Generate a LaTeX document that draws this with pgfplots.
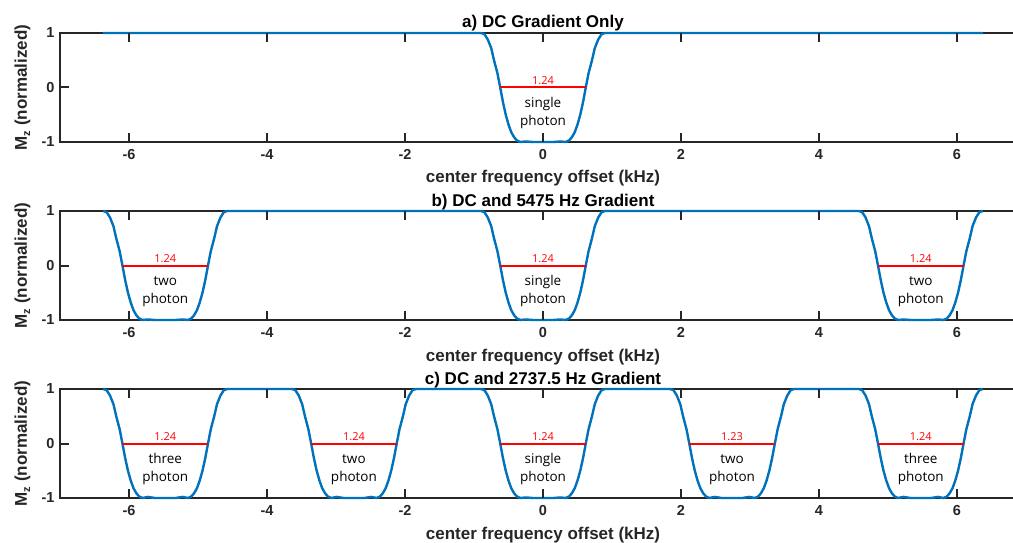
\documentclass[border=0pt]{standalone}
\usepackage{pgfplots}
\pgfplotsset{compat=1.18}
\usepackage{pgfplotstable}
\usepackage{fontspec}
\setmainfont{Liberation Sans}
\newfontfamily\annot{Open Sans}
\definecolor{mblue}{rgb}{0,0.447,0.741}
\definecolor{axgray}{rgb}{0.15,0.15,0.15}

\pgfplotstableread{
x y
-6.38 1.00
-0.90 1.00
-0.85 0.98
-0.80 0.88
-0.75 0.72
-0.71 0.50
-0.66 0.26
-0.62 0.00
-0.58 -0.27
-0.54 -0.50
-0.50 -0.68
-0.46 -0.82
-0.42 -0.91
-0.38 -0.97
-0.33 -1.00
-0.25 -0.99
-0.15 -1.00
0.00 -1.00
0.15 -1.00
0.25 -0.99
0.33 -1.00
0.38 -0.97
0.42 -0.91
0.46 -0.82
0.50 -0.68
0.54 -0.50
0.58 -0.27
0.62 0.00
0.66 0.26
0.71 0.50
0.75 0.72
0.80 0.88
0.85 0.98
0.90 1.00
6.38 1.00
}\tabA

\pgfplotstableread{
x y
-6.375 1.00
-6.325 0.98
-6.275 0.88
-6.225 0.72
-6.185 0.50
-6.135 0.26
-6.095 0.00
-6.055 -0.27
-6.015 -0.50
-5.975 -0.68
-5.935 -0.82
-5.895 -0.91
-5.855 -0.97
-5.805 -1.00
-5.725 -0.99
-5.625 -1.00
-5.475 -1.00
-5.325 -1.00
-5.225 -0.99
-5.145 -1.00
-5.095 -0.97
-5.055 -0.91
-5.015 -0.82
-4.975 -0.68
-4.935 -0.50
-4.895 -0.27
-4.855 0.00
-4.815 0.26
-4.765 0.50
-4.725 0.72
-4.675 0.88
-4.625 0.98
-4.575 1.00
-0.90 1.00
-0.85 0.98
-0.80 0.88
-0.75 0.72
-0.71 0.50
-0.66 0.26
-0.62 0.00
-0.58 -0.27
-0.54 -0.50
-0.50 -0.68
-0.46 -0.82
-0.42 -0.91
-0.38 -0.97
-0.33 -1.00
-0.25 -0.99
-0.15 -1.00
0.00 -1.00
0.15 -1.00
0.25 -0.99
0.33 -1.00
0.38 -0.97
0.42 -0.91
0.46 -0.82
0.50 -0.68
0.54 -0.50
0.58 -0.27
0.62 0.00
0.66 0.26
0.71 0.50
0.75 0.72
0.80 0.88
0.85 0.98
0.90 1.00
4.575 1.00
4.625 0.98
4.675 0.88
4.725 0.72
4.765 0.50
4.815 0.26
4.855 0.00
4.895 -0.27
4.935 -0.50
4.975 -0.68
5.015 -0.82
5.055 -0.91
5.095 -0.97
5.145 -1.00
5.225 -0.99
5.325 -1.00
5.475 -1.00
5.625 -1.00
5.725 -0.99
5.805 -1.00
5.855 -0.97
5.895 -0.91
5.935 -0.82
5.975 -0.68
6.015 -0.50
6.055 -0.27
6.095 0.00
6.135 0.26
6.185 0.50
6.225 0.72
6.275 0.88
6.325 0.98
6.375 1.00
}\tabB

\pgfplotstableread{
x y
-6.375 1.00
-6.325 0.98
-6.275 0.88
-6.225 0.72
-6.185 0.50
-6.135 0.26
-6.095 0.00
-6.055 -0.27
-6.015 -0.50
-5.975 -0.68
-5.935 -0.82
-5.895 -0.91
-5.855 -0.97
-5.805 -1.00
-5.725 -0.98
-5.625 -1.00
-5.475 -1.00
-5.325 -1.00
-5.225 -0.98
-5.145 -1.00
-5.095 -0.97
-5.055 -0.91
-5.015 -0.82
-4.975 -0.68
-4.935 -0.50
-4.895 -0.27
-4.855 0.00
-4.815 0.26
-4.765 0.50
-4.725 0.72
-4.675 0.88
-4.625 0.98
-4.575 1.00
-3.64 1.00
-3.59 0.98
-3.54 0.88
-3.49 0.72
-3.45 0.50
-3.40 0.26
-3.36 0.00
-3.32 -0.27
-3.28 -0.50
-3.24 -0.68
-3.20 -0.82
-3.16 -0.91
-3.12 -0.97
-3.07 -1.00
-2.99 -0.98
-2.89 -1.00
-2.74 -1.00
-2.59 -1.00
-2.49 -0.98
-2.41 -1.00
-2.36 -0.97
-2.32 -0.91
-2.28 -0.82
-2.24 -0.68
-2.20 -0.50
-2.16 -0.27
-2.12 0.00
-2.08 0.26
-2.03 0.50
-1.99 0.72
-1.94 0.88
-1.89 0.98
-1.84 1.00
-0.90 1.00
-0.85 0.98
-0.80 0.88
-0.75 0.72
-0.71 0.50
-0.66 0.26
-0.62 0.00
-0.58 -0.27
-0.54 -0.50
-0.50 -0.68
-0.46 -0.82
-0.42 -0.91
-0.38 -0.97
-0.33 -1.00
-0.25 -0.99
-0.15 -1.00
0.00 -1.00
0.15 -1.00
0.25 -0.99
0.33 -1.00
0.38 -0.97
0.42 -0.91
0.46 -0.82
0.50 -0.68
0.54 -0.50
0.58 -0.27
0.62 0.00
0.66 0.26
0.71 0.50
0.75 0.72
0.80 0.88
0.85 0.98
0.90 1.00
1.84 1.00
1.89 0.98
1.94 0.88
1.99 0.72
2.03 0.50
2.08 0.26
2.12 0.00
2.16 -0.27
2.20 -0.50
2.24 -0.68
2.28 -0.82
2.32 -0.91
2.36 -0.97
2.41 -1.00
2.49 -0.98
2.59 -1.00
2.74 -1.00
2.89 -1.00
2.99 -0.98
3.07 -1.00
3.12 -0.97
3.16 -0.91
3.20 -0.82
3.24 -0.68
3.28 -0.50
3.32 -0.27
3.36 0.00
3.40 0.26
3.45 0.50
3.49 0.72
3.54 0.88
3.59 0.98
3.64 1.00
4.575 1.00
4.625 0.98
4.675 0.88
4.725 0.72
4.765 0.50
4.815 0.26
4.855 0.00
4.895 -0.27
4.935 -0.50
4.975 -0.68
5.015 -0.82
5.055 -0.91
5.095 -0.97
5.145 -1.00
5.225 -0.98
5.325 -1.00
5.475 -1.00
5.625 -1.00
5.725 -0.98
5.805 -1.00
5.855 -0.97
5.895 -0.91
5.935 -0.82
5.975 -0.68
6.015 -0.50
6.055 -0.27
6.095 0.00
6.135 0.26
6.185 0.50
6.225 0.72
6.275 0.88
6.325 0.98
6.375 1.00
}\tabC

\newcommand{\lblfont}{\fontsize{17}{19}\selectfont\bfseries}
\newcommand{\tickfont}{\fontsize{14.5}{16}\selectfont\bfseries}

\tikzset{tickline/.style={draw=axgray, line width=2pt}}

\pgfplotsset{
  panel/.style={
    scale only axis, width=966pt, height=109pt, anchor=south west,
    xmin=-7, xmax=7, ymin=-1, ymax=1,
    clip=false,
    axis line style={line width=1.6pt, draw=axgray},
    xtick={-6,-4,-2,0,2,4,6}, xticklabels={-6,-4,-2,0,2,4,6},
    ytick={-1,0,1}, yticklabels={-1,0,1},
    tick align=inside, major tick length=9pt,
    tick style={line width=1.6pt, color=axgray},
    xticklabel style={font=\tickfont, text=axgray, yshift=-4pt},
    yticklabel style={font=\tickfont, text=axgray, xshift=-2pt},
    every axis title/.style={at={(axis description cs:0.5,1)}, anchor=base, yshift=5pt, font=\lblfont, text=black},
    every axis x label/.style={at={(axis description cs:0.5,0)}, anchor=base, yshift=-41pt, font=\lblfont, text=axgray},
    every axis y label/.style={at={(axis description cs:0,0.5)}, xshift=-33pt, rotate=90, anchor=base, font=\lblfont, text=axgray},
    xlabel={center frequency offset (kHz)},
    ylabel={M\raisebox{-0.35ex}{\fontsize{11}{11}\selectfont z} (normalized)},
  },
  curve/.style={mblue, line width=2.4pt, line join=round},
  fwhm/.style={red, line width=2pt},
}

\newcommand{\drawticks}{%
  \pgfplotsinvokeforeach{-6,-4,-2,0,2,4,6}{%
    \draw[tickline] (axis cs:##1,-1) -- ([yshift=9pt]axis cs:##1,-1);
    \draw[tickline] (axis cs:##1,1) -- ([yshift=-9pt]axis cs:##1,1);
  }%
  \pgfplotsinvokeforeach{-1,0,1}{%
    \draw[tickline] (axis cs:-7,##1) -- ([xshift=9pt]axis cs:-7,##1);
  }%
}

\newcommand{\dipnote}[4]{%
  \node[anchor=base, font=\annot\fontsize{11}{12}\selectfont, text=red] at (axis cs:#1,0.06) {#2};
  \node[anchor=base, font=\annot\fontsize{13.5}{14}\selectfont, text=black] at (axis cs:#1,-0.37) {#3};
  \node[anchor=base, font=\annot\fontsize{13.5}{14}\selectfont, text=black] at (axis cs:#1,-0.70) {#4};
}

\begin{document}
\begin{tikzpicture}
\useasboundingbox (0,0) rectangle (1013pt,542pt);

\begin{axis}[panel, at={(60pt,400pt)}, title={a) DC Gradient Only}]
\addplot[curve] table[x=x,y=y] {\tabA};
\addplot[fwhm] coordinates {(-0.62,0) (0.62,0)};
\dipnote{0}{1.24}{single}{photon}
\drawticks
\end{axis}

\begin{axis}[panel, at={(60pt,222pt)}, title={b) DC and 5475 Hz Gradient}]
\addplot[curve] table[x=x,y=y] {\tabB};
\addplot[fwhm] coordinates {(-6.095,0) (-4.855,0)};
\addplot[fwhm] coordinates {(-0.62,0) (0.62,0)};
\addplot[fwhm] coordinates {(4.855,0) (6.095,0)};
\dipnote{-5.475}{1.24}{two}{photon}
\dipnote{0}{1.24}{single}{photon}
\dipnote{5.475}{1.24}{two}{photon}
\drawticks
\end{axis}

\begin{axis}[panel, at={(60pt,44pt)}, title={c) DC and 2737.5 Hz Gradient}]
\addplot[curve] table[x=x,y=y] {\tabC};
\addplot[fwhm] coordinates {(-6.095,0) (-4.855,0)};
\addplot[fwhm] coordinates {(-3.36,0) (-2.12,0)};
\addplot[fwhm] coordinates {(-0.62,0) (0.62,0)};
\addplot[fwhm] coordinates {(2.12,0) (3.36,0)};
\addplot[fwhm] coordinates {(4.855,0) (6.095,0)};
\dipnote{-5.475}{1.24}{three}{photon}
\dipnote{-2.74}{1.24}{two}{photon}
\dipnote{0}{1.24}{single}{photon}
\dipnote{2.74}{1.23}{two}{photon}
\dipnote{5.475}{1.24}{three}{photon}
\drawticks
\end{axis}
\end{tikzpicture}
\end{document}
